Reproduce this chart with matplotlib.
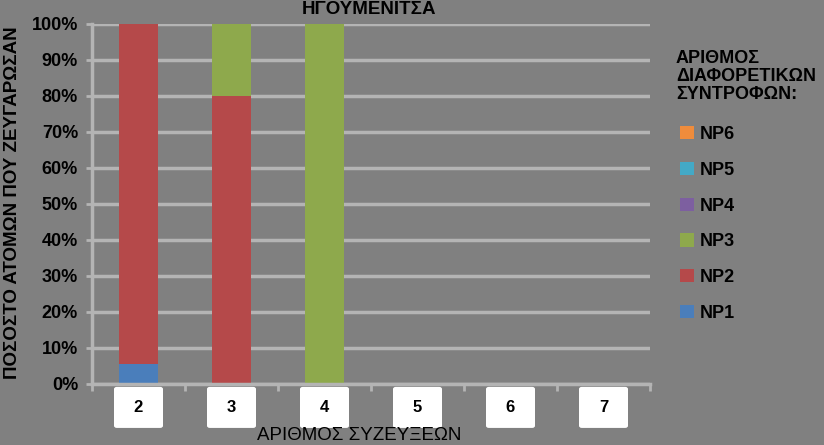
import numpy as np
import matplotlib
matplotlib.use("Agg")
import matplotlib.pyplot as plt
from matplotlib.patches import FancyBboxPatch, Patch

plt.rcParams['font.family'] = ['Liberation Sans', 'DejaVu Sans']

# data (percent of people per number of matings)
categories = ['2', '3', '4', '5', '6', '7']
np1 = [5.5, 0, 0, 0, 0, 0]
np2 = [94.5, 80, 0, 0, 0, 0]
np3 = [0, 20, 100, 0, 0, 0]
np4 = [0, 0, 0, 0, 0, 0]
np5 = [0, 0, 0, 0, 0, 0]
np6 = [0, 0, 0, 0, 0, 0]
series_names = ['NP1', 'NP2', 'NP3', 'NP4', 'NP5', 'NP6']
series_colors = ['#4a7ebb', '#b5494a', '#8ea94c', '#7d5fa0', '#43a9c6', '#ef8c3c']
yticks = [0, 10, 20, 30, 40, 50, 60, 70, 80, 90, 100]

bg = '#808080'
gridc = '#b4b4b4'

fig = plt.figure(figsize=(8.24, 4.45), dpi=100, facecolor=bg)
ax = fig.add_axes([92/824, 1-384/445, 558/824, 360/445])
ax.set_facecolor(bg)

x = np.arange(len(categories))
bottom = np.zeros(len(categories))
for vals, col in zip([np1, np2, np3, np4, np5, np6], series_colors):
    ax.bar(x, vals, bottom=bottom, width=0.41, color=col, zorder=3)
    bottom += np.array(vals)

ax.set_xlim(-0.5, len(categories)-0.5)
ax.set_ylim(0, 100)
ax.set_yticks(yticks)
ax.set_yticklabels(['%d%%' % v for v in yticks], fontsize=13, fontweight='bold')
ax.yaxis.grid(True, color=gridc, linewidth=2.5, solid_capstyle='round', zorder=1)
ax.tick_params(axis='y', length=4, width=2, color=gridc, pad=6)

# x ticks at category boundaries, labels drawn in white boxes
ax.set_xticks(np.arange(len(categories)+1)-0.5)
ax.set_xticklabels([])
ax.tick_params(axis='x', length=5, width=2, color=gridc)

for s in ['top', 'right']:
    ax.spines[s].set_visible(False)
for s in ['left', 'bottom']:
    ax.spines[s].set_color(gridc)
    ax.spines[s].set_linewidth(2.5)
    ax.spines[s].set_zorder(4)

trans = ax.get_xaxis_transform()
bw = 49/93
for i, c in enumerate(categories):
    box = FancyBboxPatch((i - bw/2, -0.122), bw, 0.114,
                         boxstyle='round,pad=0,rounding_size=0.03',
                         transform=trans, facecolor='white', edgecolor='none',
                         clip_on=False, zorder=5, mutation_aspect=0.2)
    ax.add_patch(box)
    ax.text(i, -0.066, c, transform=trans, ha='center', va='center',
            fontsize=12, fontweight='bold', color='black', zorder=6, clip_on=False)

fig.text(369/824, 1-10/445, 'ΗΓΟΥΜΕΝΙΤΣΑ', ha='center', va='center',
         fontsize=13.5, fontweight='bold')
fig.text(359/824, 1-436/445, 'ΑΡΙΘΜΟΣ ΣΥΖΕΥΞΕΩΝ', ha='center', va='center',
         fontsize=13.5)
fig.text(13/824, 1-203/445, 'ΠΟΣΟΣΤΟ ΑΤΟΜΩΝ ΠΟΥ ΖΕΥΓΑΡΩΣΑΝ', ha='center', va='center',
         rotation=90, fontsize=13.5, fontweight='bold')

# legend title as separate text, entries below
fig.text(676/824, 1-50/445, 'ΑΡΙΘΜΟΣ\nΔΙΑΦΟΡΕΤΙΚΩΝ\nΣΥΝΤΡΟΦΩΝ:', ha='left', va='top',
         fontsize=13, fontweight='bold', linespacing=1.06)

handles = [Patch(facecolor=c, edgecolor='none') for c in series_colors][::-1]
labels = series_names[::-1]
leg = fig.legend(handles, labels, loc='upper left', bbox_to_anchor=(680/824, 1-126/445),
                 frameon=False, borderpad=0, borderaxespad=0,
                 handlelength=0.75, handleheight=0.75, handletextpad=0.35,
                 labelspacing=1.04,
                 prop={'size': 13, 'weight': 'bold'})

fig.savefig('out.png', dpi=100, facecolor=bg)
